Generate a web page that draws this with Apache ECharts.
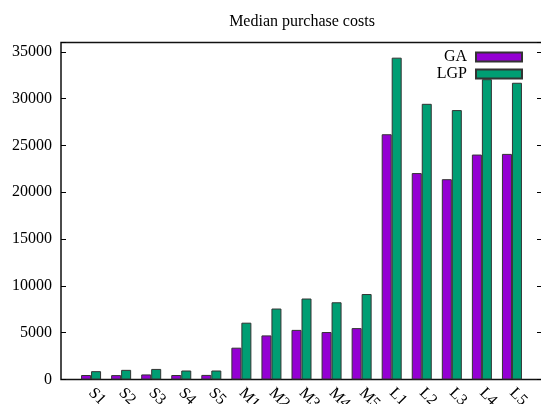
<!DOCTYPE html>
<html><head><meta charset="utf-8">
<script src="https://cdn.jsdelivr.net/npm/echarts@6/dist/echarts.min.js"></script>
<style>html,body{margin:0;padding:0;background:#fff}#c{width:541px;height:404px}</style>
</head><body><div id="c"></div>
<script>
const titleText = 'Median purchase costs';
const categories = ['S1','S2','S3','S4','S5','M1','M2','M3','M4','M5','L1','L2','L3','L4','L5'];
const seriesNames = ['GA','LGP'];
const gaValues  = [480, 470, 540, 480, 490, 3400, 4710, 5300, 5070, 5490, 26200, 22050, 21400, 24030, 24100];
const lgpValues = [890, 1030, 1130, 960, 960, 6070, 7580, 8650, 8250, 9130, 34380, 29450, 28780, 32080, 31700];
const yMax = 36000;
const yStep = 5000;

const serif = "'Liberation Serif','DejaVu Serif',serif";
const chart = echarts.init(document.getElementById('c'), null, {renderer: 'canvas'});
const yCommon = {
  type: 'value', min: 0, max: yMax, interval: yStep,
  splitLine: {show: false},
  axisLine: {show: false, onZero: false},
  axisTick: {show: true, inside: true, length: 5, lineStyle: {color: '#000', width: 1}}
};
chart.setOption({
  animation: false,
  backgroundColor: '#fff',
  title: {
    text: titleText, left: 297, top: 9, textAlign: 'center',
    textStyle: {fontFamily: serif, fontSize: 16, fontWeight: 'normal', color: '#000'}
  },
  legend: {
    orient: 'vertical', right: 13, top: 44, align: 'right',
    itemWidth: 46, itemHeight: 9, itemGap: 1, icon: 'rect',
    textStyle: {fontFamily: serif, fontSize: 16, color: '#000', padding: [0, 4, 0, 0]},
    data: seriesNames
  },
  grid: {
    left: 61, right: -1, top: 42.5, bottom: 24.5,
    show: true, borderColor: '#111', borderWidth: 1.5,
    containLabel: false, outerBoundsMode: 'none'
  },
  xAxis: {
    type: 'value', min: -1, max: categories.length, interval: 1,
    splitLine: {show: false},
    axisLine: {show: false},
    axisTick: {show: false},
    axisLabel: {
      rotate: -45, margin: 11, fontFamily: serif, fontSize: 16, color: '#000',
      showMinLabel: true, showMaxLabel: true,
      formatter: v => categories[v] || ''
    }
  },
  yAxis: [
    Object.assign({}, yCommon, {
      position: 'left',
      axisLabel: {
        margin: 9, fontFamily: serif, fontSize: 16, color: '#000',
        formatter: v => (v % yStep === 0 ? String(v) : '')
      }
    }),
    Object.assign({}, yCommon, {position: 'right', axisLabel: {show: false}})
  ],
  series: [
    {
      name: seriesNames[0], type: 'bar', yAxisIndex: 0,
      barWidth: 10, barGap: '0%',
      itemStyle: {color: '#9400D3', borderColor: '#333', borderWidth: 1},
      data: categories.map((c, i) => [i, gaValues[i]])
    },
    {
      name: seriesNames[1], type: 'bar', yAxisIndex: 0,
      barWidth: 10, barGap: '0%',
      itemStyle: {color: '#009E73', borderColor: '#333', borderWidth: 1},
      data: categories.map((c, i) => [i, lgpValues[i]])
    }
  ]
});
</script>
</body></html>
